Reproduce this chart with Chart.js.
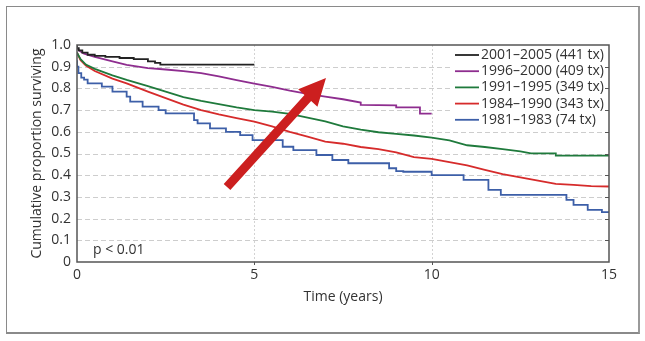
<!DOCTYPE html>
<html>
<head>
<meta charset="utf-8">
<script src="https://cdn.jsdelivr.net/npm/chart.js@4/dist/chart.umd.min.js"></script>
<style>
  html, body { margin: 0; padding: 0; background: #fff; }
  #wrap { position: relative; width: 645px; height: 341px; }
  #frame { position: absolute; left: 6px; top: 6px; width: 631px; height: 325px;
           border: 1px solid #8a8a8a; border-right: 2px solid #9a9a9a; border-bottom: 2px solid #8a8a8a; }
  canvas { position: absolute; left: 0; top: 0; }
</style>
</head>
<body>
<div id="wrap">
  <div id="frame"></div>
  <canvas id="c" width="645" height="341"></canvas>
</div>
<script>
// ---- Tick labels / grid values ----
const xTickValues = [0, 5, 10, 15];
const yTickValues = [0, 0.1, 0.2, 0.3, 0.4, 0.5, 0.6, 0.7, 0.8, 0.9, 1.0];
const xGridValues = [5, 10];
const yGridValues = [0.1, 0.2, 0.3, 0.4, 0.5, 0.6, 0.7, 0.8, 0.9];

// ---- Series labels ----
const seriesLabels = ['2001–2005 (441 tx)', '1996–2000 (409 tx)', '1991–1995 (349 tx)', '1984–1990 (343 tx)', '1981–1983 (74 tx)'];
const seriesColors = ['#222222', '#8e2d8f', '#1f7a3c', '#d62b2b', '#3d5fa8'];

// ---- Series values (time in years, cumulative proportion surviving) ----
const t2001 = [0, 0.05, 0.15, 0.3, 0.5, 0.8, 1.2, 1.6, 2.0, 2.2, 2.35, 2.9, 5.0];
const s2001 = [1.0, 0.985, 0.975, 0.965, 0.955, 0.95, 0.945, 0.94, 0.935, 0.925, 0.918, 0.91, 0.91];

const t1996 = [0, 0.05, 0.2, 0.5, 1.0, 1.4, 2.0, 2.5, 3.0, 3.5, 4.0, 4.5, 5.0, 5.5, 6.0, 6.5, 7.0, 7.5, 8.0, 8.0, 9.0, 9.0, 9.67, 9.67, 10.0];
const s1996 = [0.99, 0.975, 0.96, 0.945, 0.925, 0.908, 0.893, 0.887, 0.88, 0.87, 0.855, 0.838, 0.822, 0.807, 0.79, 0.775, 0.762, 0.75, 0.735, 0.724, 0.722, 0.713, 0.713, 0.684, 0.684];

const t1991 = [0, 0.1, 0.25, 0.5, 1.0, 1.4, 2.0, 2.5, 3.0, 3.5, 4.0, 4.5, 5.0, 5.5, 6.0, 6.5, 7.0, 7.5, 8.0, 8.5, 9.0, 9.5, 10.0, 10.5, 11.0, 11.5, 12.0, 12.5, 12.8, 13.5, 13.5, 15];
const s1991 = [0.965, 0.935, 0.91, 0.89, 0.86, 0.839, 0.81, 0.785, 0.76, 0.742, 0.728, 0.713, 0.70, 0.693, 0.683, 0.665, 0.648, 0.625, 0.61, 0.598, 0.59, 0.583, 0.573, 0.56, 0.538, 0.53, 0.52, 0.51, 0.501, 0.501, 0.49, 0.49];

const t1984 = [0, 0.1, 0.25, 0.5, 1.0, 1.4, 2.0, 2.5, 3.0, 3.5, 4.0, 4.5, 5.0, 5.5, 6.0, 6.5, 7.0, 7.5, 8.0, 8.5, 9.0, 9.5, 10.0, 10.5, 11.0, 11.5, 12.0, 12.5, 13.0, 13.5, 14.0, 14.5, 15];
const s1984 = [0.965, 0.93, 0.905, 0.88, 0.845, 0.823, 0.785, 0.755, 0.725, 0.70, 0.68, 0.663, 0.647, 0.625, 0.60, 0.578, 0.555, 0.545, 0.53, 0.52, 0.505, 0.483, 0.475, 0.46, 0.445, 0.425, 0.405, 0.39, 0.375, 0.36, 0.355, 0.35, 0.348];

const t1981 = [0, 0.04, 0.12, 0.2, 0.3, 0.7, 1.0, 1.4, 1.5, 1.85, 2.3, 2.5, 3.3, 3.4, 3.75, 4.2, 4.6, 4.95, 5.8, 6.1, 6.75, 7.2, 7.65, 8.8, 9.0, 9.2, 10.0, 10.9, 11.6, 11.95, 12.05, 13.8, 14.0, 14.4, 14.8, 15];
const s1981 = [0.93, 0.90, 0.87, 0.85, 0.84, 0.823, 0.808, 0.785, 0.762, 0.739, 0.716, 0.70, 0.685, 0.654, 0.639, 0.616, 0.60, 0.585, 0.562, 0.531, 0.516, 0.493, 0.47, 0.455, 0.432, 0.419, 0.416, 0.40, 0.378, 0.332, 0.309, 0.309, 0.286, 0.263, 0.24, 0.23];

const seriesTimes = [t2001, t1996, t1991, t1984, t1981];
const seriesValues = [s2001, s1996, s1991, s1984, s1981];
const seriesStepped = ['after', false, false, false, 'after'];

// ---- Annotations (data coordinates) ----
const arrowFrom = [4.23, 0.346];
const arrowTo = [7.02, 0.848];
const pText = 'p < 0.01';
const pPos = [0.45, 0.055];

const FONT = '"Open Sans", "DejaVu Sans", sans-serif';
const TEXT = '#333333';

const datasets = seriesLabels.map((lab, i) => ({
  label: lab,
  data: seriesTimes[i].map((t, j) => ({ x: t, y: seriesValues[i][j] })),
  borderColor: seriesColors[i],
  backgroundColor: seriesColors[i],
  borderWidth: 1.8,
  pointRadius: 0,
  fill: false,
  tension: 0,
  stepped: seriesStepped[i]
}));

const decor = {
  id: 'decor',
  beforeDatasetsDraw(chart) {
    const { ctx, chartArea: a, scales: { x, y } } = chart;
    ctx.save();
    ctx.lineWidth = 1;
    ctx.strokeStyle = '#cdcdcd';
    ctx.setLineDash([5, 3]);
    yGridValues.forEach(v => {
      const py = Math.round(y.getPixelForValue(v)) + 0.5;
      ctx.beginPath(); ctx.moveTo(a.left, py); ctx.lineTo(a.right, py); ctx.stroke();
    });
    ctx.strokeStyle = '#d3d3d3';
    ctx.setLineDash([2, 2]);
    xGridValues.forEach(v => {
      const px = Math.round(x.getPixelForValue(v)) + 0.5;
      ctx.beginPath(); ctx.moveTo(px, a.top); ctx.lineTo(px, a.bottom); ctx.stroke();
    });
    ctx.restore();
  },
  afterDatasetsDraw(chart) {
    const { ctx, chartArea: a, scales: { x, y } } = chart;
    ctx.save();
    // arrow
    const x0 = x.getPixelForValue(arrowFrom[0]), y0 = y.getPixelForValue(arrowFrom[1]);
    const x1 = x.getPixelForValue(arrowTo[0]), y1 = y.getPixelForValue(arrowTo[1]);
    const dx = x1 - x0, dy = y1 - y0, L = Math.hypot(dx, dy);
    const ux = dx / L, uy = dy / L, nx = -uy, ny = ux;
    const sw = 4.5, hw = 13, hl = 27;
    const bx = x1 - ux * hl, by = y1 - uy * hl;
    ctx.fillStyle = '#cc1f1f';
    ctx.beginPath();
    ctx.moveTo(x0 + nx * sw, y0 + ny * sw);
    ctx.lineTo(bx + nx * sw, by + ny * sw);
    ctx.lineTo(bx + nx * hw, by + ny * hw);
    ctx.lineTo(x1, y1);
    ctx.lineTo(bx - nx * hw, by - ny * hw);
    ctx.lineTo(bx - nx * sw, by - ny * sw);
    ctx.lineTo(x0 - nx * sw, y0 - ny * sw);
    ctx.closePath();
    ctx.fill();

    // p text
    ctx.fillStyle = TEXT;
    ctx.font = '14px ' + FONT;
    ctx.textBaseline = 'middle';
    ctx.textAlign = 'left';
    ctx.fillText(pText, x.getPixelForValue(pPos[0]), y.getPixelForValue(pPos[1]));

    // legend
    const lx = a.right - 154, ly = a.top + 10, rowH = 16.2;
    ctx.fillStyle = '#ffffff';
    ctx.fillRect(lx - 3, a.top + 2, a.right - lx - 2, rowH * seriesLabels.length + 4);
    seriesLabels.forEach((lab, i) => {
      const yy = ly + i * rowH;
      ctx.strokeStyle = seriesColors[i];
      ctx.lineWidth = 1.8;
      ctx.setLineDash([]);
      ctx.beginPath(); ctx.moveTo(lx, yy); ctx.lineTo(lx + 24, yy); ctx.stroke();
      ctx.fillStyle = TEXT;
      ctx.fillText(lab, lx + 26, yy);
    });

    // plot frame
    ctx.strokeStyle = '#555555';
    ctx.lineWidth = 1.5;
    ctx.strokeRect(a.left, a.top, a.right - a.left, a.bottom - a.top);
    // right inward ticks
    ctx.lineWidth = 1;
    yGridValues.forEach(v => {
      const py = Math.round(y.getPixelForValue(v)) + 0.5;
      ctx.beginPath(); ctx.moveTo(a.right - 4, py); ctx.lineTo(a.right, py); ctx.stroke();
    });
    xGridValues.forEach(v => {
      const px = Math.round(x.getPixelForValue(v)) + 0.5;
      ctx.beginPath(); ctx.moveTo(px, a.bottom); ctx.lineTo(px, a.bottom + 3); ctx.stroke();
    });
    ctx.restore();
  }
};

new Chart(document.getElementById('c'), {
  type: 'line',
  data: { datasets },
  options: {
    responsive: false,
    animation: false,
    devicePixelRatio: 1,
    layout: { padding: { left: 22, top: 45, right: 36, bottom: 34 } },
    plugins: { legend: { display: false }, tooltip: { enabled: false } },
    scales: {
      x: {
        type: 'linear', min: 0, max: 15,
        afterBuildTicks: s => { s.ticks = xTickValues.map(v => ({ value: v })); },
        afterFit: s => { s.height = 45; },
        grid: { display: false, drawTicks: false },
        border: { display: false },
        ticks: { color: TEXT, font: { size: 14, family: FONT }, padding: 5, maxRotation: 0, autoSkip: false },
        title: { display: true, text: 'Time (years)', color: TEXT, font: { size: 14, family: FONT }, padding: { top: 2, bottom: 2 } }
      },
      y: {
        type: 'linear', min: 0, max: 1,
        afterBuildTicks: s => { s.ticks = yTickValues.map(v => ({ value: v })); },
        afterFit: s => { s.width = 55; },
        grid: { display: false, drawTicks: false },
        border: { display: false },
        ticks: { color: TEXT, font: { size: 14, family: FONT }, padding: 6, autoSkip: false,
                 callback: v => (v === 0 ? '0' : Number(v).toFixed(1)) },
        title: { display: true, text: 'Cumulative proportion surviving', color: TEXT, font: { size: 14, family: FONT }, padding: { top: 7, bottom: 2 } }
      }
    }
  },
  plugins: [decor]
});
</script>
</body>
</html>
